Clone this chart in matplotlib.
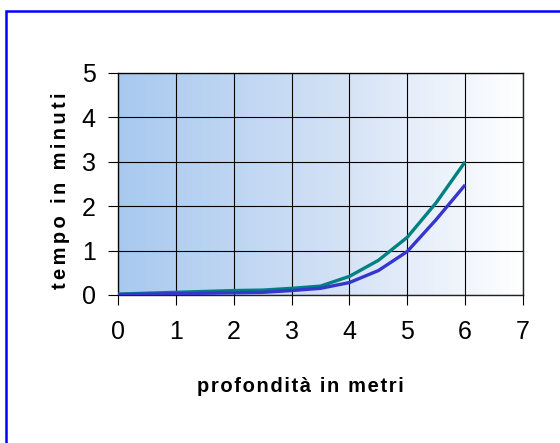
import numpy as np
import matplotlib
matplotlib.use("Agg")
import matplotlib.pyplot as plt
from matplotlib.patches import Rectangle
from matplotlib.colors import LinearSegmentedColormap

# data
depth = [0, 0.5, 1, 1.5, 2, 2.5, 3, 3.5, 4, 4.5, 5, 5.5, 6]
time_teal = [0.02, 0.04, 0.06, 0.08, 0.10, 0.11, 0.15, 0.20, 0.42, 0.78, 1.30, 2.08, 3.00]
time_blue = [0.01, 0.02, 0.03, 0.04, 0.05, 0.06, 0.10, 0.15, 0.28, 0.55, 0.98, 1.70, 2.48]
xticks = [0, 1, 2, 3, 4, 5, 6, 7]
yticks = [0, 1, 2, 3, 4, 5]

plt.rcParams['font.family'] = ['Liberation Sans', 'DejaVu Sans']


def spaced(s, sp):
    # Excel-like letter spacing
    return sp.join(s)


fig = plt.figure(figsize=(5.6, 4.43), dpi=100)
ax = fig.add_axes([118/560, 1 - 295/443, (523 - 118)/560, (295 - 73)/443])

# gradient background of plot area
cmap = LinearSegmentedColormap.from_list("bg", ["#a8c9ef", "#cfdff5", "#ffffff"])
grad = np.linspace(0, 1, 256).reshape(1, -1)
ax.imshow(grad, extent=[0, 7, 0, 5], aspect="auto", cmap=cmap, zorder=0)

ax.plot(depth, time_teal, color="#008080", lw=2.4, zorder=3, solid_capstyle="butt")
ax.plot(depth, time_blue, color="#3636cc", lw=2.4, zorder=3, solid_capstyle="butt")

ax.set_xlim(0, 7)
ax.set_ylim(0, 5)
ax.set_xticks(xticks)
ax.set_yticks(yticks)
ax.grid(True, color="black", lw=0.8, zorder=1)
ax.set_axisbelow(False)
for s in ax.spines.values():
    s.set_color("#222222")
    s.set_linewidth(1.0)
ax.tick_params(axis="both", labelsize=18, length=7, width=0.8, colors="black")
ax.tick_params(axis="x", pad=11)
ax.tick_params(axis="y", pad=9)

fig.text(300/560, 1 - 387/443, spaced("profondità in metri", "\u200a"),
         ha="center", va="center", fontsize=14.5, fontweight="bold")
fig.text(61/560, 1 - 191/443, spaced("tempo in minuti", "\u2006"),
         ha="center", va="center", fontsize=14.5, fontweight="bold", rotation=90)

# blue frame around the chart
fig.patches.append(Rectangle((6/560, -0.1), 1.2, 1 - 11/443 + 0.1,
                             transform=fig.transFigure, fill=False,
                             edgecolor="#0000ff", lw=1.8, clip_on=False))

fig.savefig("out.png", dpi=100)
plt.close(fig)
